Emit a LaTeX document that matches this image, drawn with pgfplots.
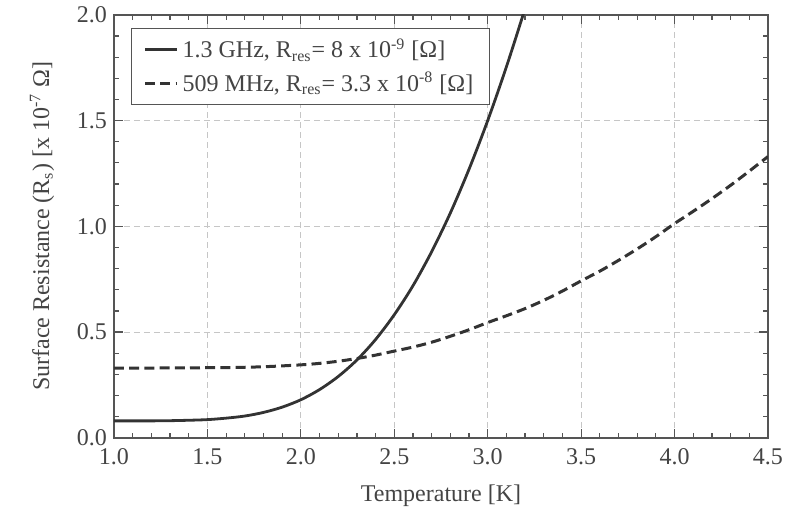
\documentclass[border=0pt]{standalone}
\usepackage{fontspec}
\setmainfont{Liberation Serif}
\usepackage{pgfplots}
\pgfplotsset{compat=1.18}

\definecolor{linec}{HTML}{333333}
\definecolor{framec}{HTML}{555555}
\definecolor{textc}{HTML}{444444}

\begin{document}
\begin{tikzpicture}
\begin{axis}[
  name=ax,
  scale only axis,
  width=327pt, height=211.5pt,
  xmin=1.0, xmax=4.5,
  ymin=0, ymax=2.0,
  xtick={1.0,1.5,...,4.5},
  ytick={0,0.5,...,2.0},
  minor x tick num=4,
  minor y tick num=4,
  xtick pos=both, ytick pos=both,
  tick align=inside,
  major tick length=4.5pt,
  minor tick length=2.5pt,
  tick style={framec, line width=0.6pt},
  axis line style={framec, line width=1pt},
  grid=major,
  grid style={densely dashed, gray!45, line width=0.4pt},
  /pgf/number format/.cd, fixed, fixed zerofill, precision=1, assume math mode=true,
  /pgfplots/.cd,
  tick label style={font=\fontsize{12}{14}\selectfont, text=textc},
  xticklabel style={yshift=-2pt},
  label style={font=\fontsize{12}{14}\selectfont, text=textc},
  xlabel={Temperature [K]},
  ylabel={Surface Resistance (R\textsubscript{s}) [x 10\textsuperscript{-7} Ω]},
  xlabel style={at={(axis description cs:0.5,-0.137)}, anchor=center},
  ylabel style={at={(axis description cs:-0.110,0.5)}, anchor=center},
  legend style={at={(rel axis cs:0.026,0.969)}, anchor=north west,
    draw=framec, line width=0.6pt, fill=white,
    font=\fontsize{12}{14}\selectfont, text=textc,
    inner xsep=6pt, inner ysep=3pt, row sep=1.5pt},
  legend cell align=left,
  legend image code/.code={\draw[#1] (0pt,0pt) -- (16pt,0pt);},
]

% 1.3 GHz
\addplot[linec, line width=1.4pt, smooth] coordinates {
(1.0,0.080) (1.1,0.080) (1.2,0.0801) (1.3,0.081) (1.4,0.083)
(1.5,0.086) (1.6,0.093) (1.7,0.103) (1.8,0.120) (1.9,0.145)
(2.0,0.180) (2.1,0.228) (2.2,0.290) (2.3,0.368) (2.4,0.465)
(2.5,0.582) (2.6,0.719) (2.7,0.880) (2.8,1.063) (2.9,1.270)
(3.0,1.500) (3.1,1.754) (3.2,2.031) (3.3,2.33)
};

% 509 MHz
\addplot[linec, line width=1.5pt, dash pattern=on 5pt off 2.6pt, smooth] coordinates {
(1.0,0.330) (1.2,0.330) (1.4,0.331) (1.6,0.332) (1.8,0.336)
(2.0,0.345) (2.1,0.352) (2.2,0.362) (2.3,0.375) (2.4,0.391)
(2.5,0.410) (2.6,0.429) (2.7,0.452) (2.8,0.480) (2.9,0.511)
(3.0,0.545) (3.1,0.577) (3.2,0.611) (3.3,0.650) (3.4,0.694)
(3.5,0.742) (3.6,0.788) (3.7,0.839) (3.8,0.893) (3.9,0.951)
(4.0,1.013) (4.1,1.071) (4.2,1.131) (4.3,1.194) (4.4,1.261)
(4.5,1.330)
};

\legend{1.3 GHz{,} R\textsubscript{res}= 8 x 10\textsuperscript{-9} [Ω],
        509 MHz{,} R\textsubscript{res}= 3.3 x 10\textsuperscript{-8} [Ω]}
\end{axis}
\path ([shift={(-57pt,-40.5pt)}]ax.south west) rectangle ([shift={(21pt,7pt)}]ax.north east);
\end{tikzpicture}
\end{document}
